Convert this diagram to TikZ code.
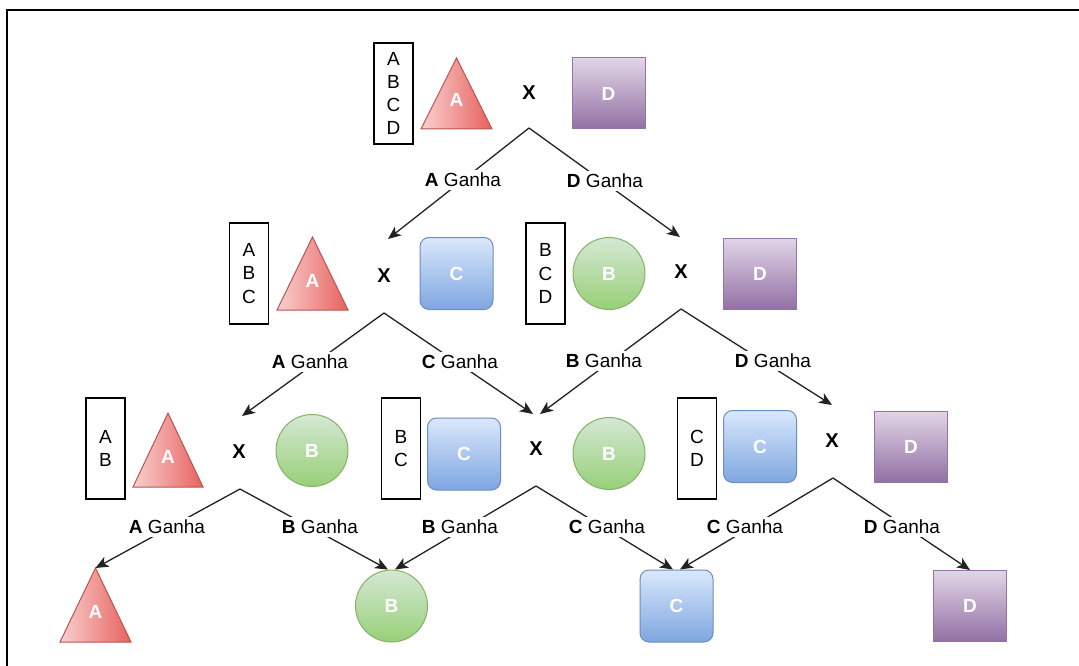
\documentclass[tikz,border=0pt]{standalone}
\usepackage{fontspec}
\setmainfont{Liberation Sans}
\usetikzlibrary{arrows.meta}
\definecolor{redS}{HTML}{B85450}
\definecolor{redL}{HTML}{F7D0D0}
\definecolor{redR}{HTML}{E8615D}
\definecolor{bluS}{HTML}{6C8EBF}
\definecolor{bluT}{HTML}{DAE8FC}
\definecolor{bluB}{HTML}{7EA6E0}
\definecolor{grnS}{HTML}{82B366}
\definecolor{grnT}{HTML}{D5E8D4}
\definecolor{grnB}{HTML}{97D077}
\definecolor{purS}{HTML}{9673A6}
\definecolor{purT}{HTML}{E1D5E7}
\definecolor{purB}{HTML}{9270A4}
\definecolor{linec}{HTML}{222222}
\newcommand\fsz{\fontsize{19}{23.3}\selectfont}
\tikzset{
  lstbox/.style={draw=black, line width=1.3pt, minimum width=39pt, minimum height=101pt, align=center, inner sep=0pt, font=\fsz},
  shp/.style={inner sep=0pt, font=\fsz\bfseries, text=white, line width=1pt},
  sqD/.style={shp, draw=purS, top color=purT, bottom color=purB, minimum width=73pt, minimum height=71pt},
  sqC/.style={shp, draw=bluS, top color=bluT, bottom color=bluB, minimum width=73pt, minimum height=72pt, rounded corners=9pt},
  circB/.style={shp, circle, draw=grnS, top color=grnT, bottom color=grnB, minimum size=72pt},
  tri/.style={draw=redS, left color=redL, right color=redR, line width=1pt},
  tlet/.style={inner sep=0pt, font=\fsz\bfseries, text=white},
  xmark/.style={inner sep=0pt, font=\fontsize{20}{24}\selectfont\bfseries},
  lbl/.style={fill=white, inner sep=3.5pt, font=\fsz},
  arr/.style={draw=linec, line width=1.3pt, -{Stealth[length=13pt,width=11pt,inset=3.5pt]}}
}
\begin{document}
\begin{tikzpicture}[x=1pt,y=-1pt]
\useasboundingbox (0,0) rectangle (1079,666);
% frame
\draw[line width=2pt] (7,666) -- (7,10) -- (1079,10);

% ---------- level 0 ----------
\node[lstbox] (l0) at (393.5,93.5) {A\\B\\C\\D};
\path[tri] (421,129) -- (456.5,58) -- (492,129) -- cycle;
\node[tlet] (tA0) at (456.5,100) {A};
\node[xmark] (x0) at (529,93) {X};
\node[sqD] (d0) at (608.5,93.5) {D};
\coordinate (ap0) at (529,128);

% ---------- level 1 ----------
\node[lstbox] (l1a) at (249,273.5) {A\\B\\C};
\path[tri] (277,310) -- (312.5,237) -- (348,310) -- cycle;
\node[tlet] (tA1) at (312.5,281) {A};
\node[xmark] (x1a) at (384,276) {X};
\node[sqC] (c1) at (456.5,273.5) {C};
\coordinate (e1a) at (388,239);
\coordinate (ap1a) at (384,313);

\node[lstbox] (l1b) at (545.5,273.5) {B\\C\\D};
\node[circB] (b1) at (609,273.5) {B};
\node[xmark] (x1b) at (681,272) {X};
\node[sqD] (d1) at (760,274) {D};
\coordinate (e1b) at (680,237);
\coordinate (ap1b) at (681,309);

% ---------- level 2 ----------
\node[lstbox] (l2a) at (105.5,448.5) {A\\B};
\path[tri] (133,487) -- (168,413) -- (203,487) -- cycle;
\node[tlet] (tA2) at (168,457) {A};
\node[xmark] (x2a) at (239,452) {X};
\node[circB] (b2a) at (312,450.5) {B};
\coordinate (e2a) at (242,416);
\coordinate (ap2a) at (240,489);

\node[lstbox] (l2b) at (401,448.5) {B\\C};
\node[sqC] (c2b) at (464,454) {C};
\node[xmark] (x2b) at (536,449) {X};
\node[circB] (b2b) at (609,453.5) {B};
\coordinate (e2b1) at (533,414);
\coordinate (e2b2) at (540,414);
\coordinate (ap2b) at (536,486);

\node[lstbox] (l2c) at (697,448.5) {C\\D};
\node[sqC] (c2c) at (760,446.5) {C};
\node[xmark] (x2c) at (832,441) {X};
\node[sqD] (d2c) at (911,446.5) {D};
\coordinate (e2c) at (832,405);
\coordinate (ap2c) at (833,478);

% ---------- level 3 ----------
\path[tri] (60,642) -- (95.5,568) -- (131,642) -- cycle;
\node[tlet] (tA3) at (95.5,612) {A};
\coordinate (tA3top) at (95.5,568);
\node[circB] (b3) at (391.5,606) {B};
\node[sqC] (c3) at (676.5,606) {C};
\node[sqD] (d3) at (970,606) {D};

% ---------- connectors ----------
\draw[arr] (ap0) -- (e1a);
\draw[arr] (ap0) -- (e1b);
\draw[arr] (ap1a) -- (e2a);
\draw[arr] (ap1a) -- (e2b1);
\draw[arr] (ap1b) -- (e2b2);
\draw[arr] (ap1b) -- (e2c);
\draw[arr] (ap2a) -- (tA3top);
\draw[arr] (ap2a) -- ([xshift=-3.5pt]b3.north);
\draw[arr] (ap2b) -- ([xshift=3.5pt]b3.north);
\draw[arr] (ap2b) -- ([xshift=-3.5pt]c3.north);
\draw[arr] (ap2c) -- ([xshift=3.5pt]c3.north);
\draw[arr] (ap2c) -- (d3.north);

% ---------- labels ----------
\node[lbl] (g0a) at (463,180) {\textbf{A} Ganha};
\node[lbl] (g0b) at (605,181) {\textbf{D} Ganha};
\node[lbl] (g1a) at (310,362) {\textbf{A} Ganha};
\node[lbl] (g1b) at (460,362) {\textbf{C} Ganha};
\node[lbl] (g1c) at (604,361) {\textbf{B} Ganha};
\node[lbl] (g1d) at (773,361) {\textbf{D} Ganha};
\node[lbl] (g2a) at (167,527) {\textbf{A} Ganha};
\node[lbl] (g2b) at (320,527) {\textbf{B} Ganha};
\node[lbl] (g2c) at (460,527) {\textbf{B} Ganha};
\node[lbl] (g2d) at (607,527) {\textbf{C} Ganha};
\node[lbl] (g2e) at (745,527) {\textbf{C} Ganha};
\node[lbl] (g2f) at (902,527) {\textbf{D} Ganha};
\end{tikzpicture}
\end{document}
